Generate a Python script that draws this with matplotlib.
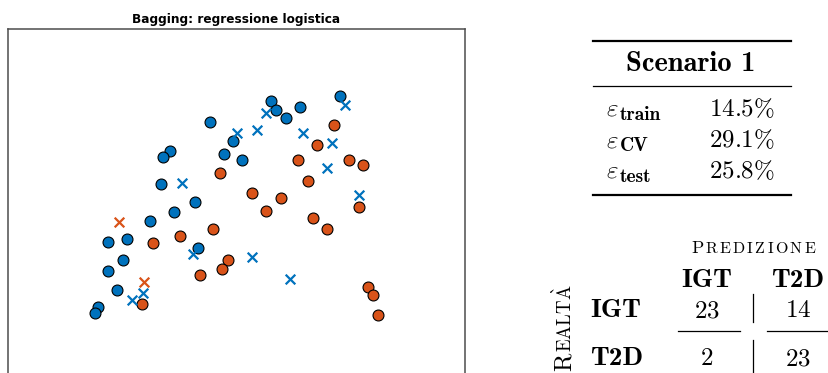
import matplotlib
matplotlib.use("Agg")
import matplotlib.pyplot as plt
import numpy as np

plt.rcParams["mathtext.fontset"] = "cm"

W, H = 829, 373

# training points (feature 1, feature 2), by class
igt_x = [271, 276, 286, 300, 340, 210, 233, 224, 242, 170, 163, 161, 195, 174,
         150, 127, 108, 123, 108, 198, 117, 98, 95]
igt_y = [272, 263, 255, 266, 277, 251, 232, 219, 213, 222, 216, 189, 171, 161,
         152, 134, 131, 113, 102, 125, 83, 66, 60]
t2d_x = [334, 317, 298, 349, 363, 308, 220, 252, 281, 266, 313, 327, 359, 213,
         180, 153, 228, 222, 200, 142, 368, 373, 378]
t2d_y = [248, 228, 213, 213, 208, 192, 200, 180, 175, 162, 155, 144, 166, 144,
         137, 130, 113, 104, 98, 69, 86, 78, 58]
# test points drawn as crosses
cross_igt_x = [345, 266, 257, 237, 303, 332, 327, 182, 359, 193, 252, 290, 143, 132]
cross_igt_y = [268, 260, 243, 240, 240, 230, 205, 190, 178, 119, 116, 94, 80, 73]
cross_t2d_x = [119, 144]
cross_t2d_y = [151, 91]

scenario = "Scenario 1"
err_names = ["train", "CV", "test"]
err_vals = [14.5, 29.1, 25.8]

classes = ["IGT", "T2D"]
confusion = np.array([[23, 14], [2, 23]])

BLUE = "#0072BD"
ORANGE = "#D95319"
BOLD = "cmb10"

fig = plt.figure(figsize=(W / 100, H / 100), dpi=100)


def fx(px):
    return px / W


def fy(py):
    return 1 - py / H


# scatter panel (runs off the bottom of the canvas)
ax = fig.add_axes([fx(8), fy(410), fx(465) - fx(8), fy(29) - fy(410)])
ax.scatter(igt_x, igt_y, s=62, c=BLUE, edgecolors="black", linewidths=0.8, zorder=2)
ax.scatter(t2d_x, t2d_y, s=62, c=ORANGE, edgecolors="black", linewidths=0.8, zorder=2)
ax.scatter(cross_igt_x, cross_igt_y, s=48, marker="x", c=BLUE, linewidths=1.6, zorder=3)
ax.scatter(cross_t2d_x, cross_t2d_y, s=48, marker="x", c=ORANGE, linewidths=1.6, zorder=3)
ax.set_xlim(8, 465)
ax.set_ylim(373 - 410, 373 - 29)
ax.set_xticks([])
ax.set_yticks([])
for sp in ax.spines.values():
    sp.set_color("#4d4d4d")
    sp.set_linewidth(1.1)
ax.set_title("Bagging: regressione logistica", fontsize=8.7, fontweight="bold", pad=4)

# error table
FS = 18
BFS = 19.5
for y, lw in [(41, 1.6), (86, 0.9), (195, 1.6)]:
    fig.add_artist(plt.Line2D([fx(593), fx(791)], [fy(y), fy(y)], color="black", lw=lw))
fig.text(fx(691), fy(71), scenario, family=BOLD, fontsize=20.5, ha="center", va="baseline")
for i, (name, val) in enumerate(zip(err_names, err_vals)):
    yb = 116 + 31 * i
    fig.text(fx(606), fy(yb), r"$\varepsilon$", fontsize=FS, ha="left", va="baseline")
    fig.text(fx(620), fy(yb + 4), name, family=BOLD, fontsize=14, ha="left", va="baseline")
    fig.text(fx(775), fy(yb), r"$%.1f\%%$" % val, fontsize=FS, ha="right", va="baseline")

# confusion matrix
fig.text(fx(691), fy(253), r"$\mathrm{P}$", fontsize=13, ha="left", va="baseline")
fig.text(fx(705), fy(253), r"$\mathrm{R\,E\,D\,I\,Z\,I\,O\,N\,E}$", fontsize=11.5,
         ha="left", va="baseline")
col_x = [707, 798]
for cx, name in zip(col_x, classes):
    fig.text(fx(cx), fy(287), name, family=BOLD, fontsize=BFS, ha="center", va="baseline")
row_y = [317, 365]
for i, (ry, name) in enumerate(zip(row_y, classes)):
    fig.text(fx(590), fy(ry), name, family=BOLD, fontsize=BFS, ha="left", va="baseline")
    for cx, v in zip(col_x, confusion[i]):
        fig.text(fx(cx), fy(ry), r"$%d$" % v, fontsize=FS, ha="center", va="baseline")
fig.add_artist(plt.Line2D([fx(753), fx(753)], [fy(294), fy(322)], color="black", lw=0.9))
fig.add_artist(plt.Line2D([fx(753), fx(753)], [fy(340), fy(380)], color="black", lw=0.9))
fig.add_artist(plt.Line2D([fx(678), fx(740)], [fy(331), fy(331)], color="black", lw=0.9))
fig.add_artist(plt.Line2D([fx(767), fx(835)], [fy(331), fy(331)], color="black", lw=0.9))
fig.text(fx(572), fy(372), r"$\mathrm{R}$", fontsize=FS, rotation=90,
         ha="left", va="baseline", rotation_mode="anchor")
fig.text(fx(572), fy(352), r"$\mathrm{EALT\grave{A}}$", fontsize=13.5,
         rotation=90, ha="left", va="baseline", rotation_mode="anchor")

fig.savefig("out.png", dpi=100)
